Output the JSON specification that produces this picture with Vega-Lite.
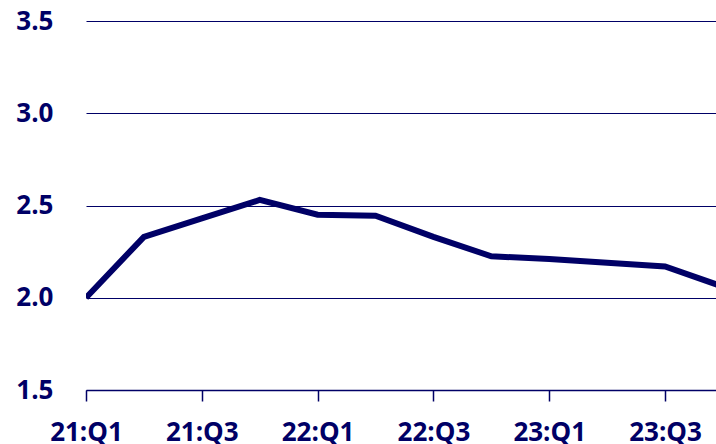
{
  "$schema": "https://vega.github.io/schema/vega-lite/v6.json",
  "autosize": "none",
  "width": 630,
  "height": 369,
  "padding": {"left": 86, "top": 21, "right": 0, "bottom": 54},
  "background": "white",
  "config": {"view": {"stroke": null}},
  "data": {"values": [
    {"quarter": "21:Q1", "idx": 0, "value": 2.00},
    {"quarter": "21:Q2", "idx": 1, "value": 2.33},
    {"quarter": "21:Q3", "idx": 2, "value": 2.43},
    {"quarter": "21:Q4", "idx": 3, "value": 2.53},
    {"quarter": "22:Q1", "idx": 4, "value": 2.45},
    {"quarter": "22:Q2", "idx": 5, "value": 2.445},
    {"quarter": "22:Q3", "idx": 6, "value": 2.33},
    {"quarter": "22:Q4", "idx": 7, "value": 2.225},
    {"quarter": "23:Q1", "idx": 8, "value": 2.21},
    {"quarter": "23:Q2", "idx": 9, "value": 2.19},
    {"quarter": "23:Q3", "idx": 10, "value": 2.17},
    {"quarter": "23:Q4", "idx": 11, "value": 2.06}
  ]},
  "mark": {"type": "line", "color": "#000066", "strokeWidth": 6, "clip": true, "strokeJoin": "miter"},
  "encoding": {
    "x": {
      "field": "idx", "type": "quantitative",
      "scale": {"domain": [0, 10.88], "nice": false, "zero": false},
      "axis": {
        "title": null, "grid": false,
        "values": [0, 2, 4, 6, 8, 10],
        "labelExpr": "['21:Q1','21:Q2','21:Q3','21:Q4','22:Q1','22:Q2','22:Q3','22:Q4','23:Q1','23:Q2','23:Q3','23:Q4'][datum.value]",
        "domainColor": "#000066", "domainWidth": 1.5,
        "tickColor": "#000066", "tickWidth": 1.5, "tickSize": 11,
        "labelFont": "Open Sans", "labelFontSize": 26, "labelFontWeight": "bold",
        "labelColor": "#000066", "labelPadding": 18, "labelFlush": false,
        "labelOverlap": false
      }
    },
    "y": {
      "field": "value", "type": "quantitative",
      "scale": {"domain": [1.5, 3.5], "nice": false, "zero": false},
      "axis": {
        "title": null, "values": [1.5, 2.0, 2.5, 3.0, 3.5],
        "format": ".1f",
        "domain": false, "ticks": false,
        "grid": true, "gridColor": "#000066", "gridWidth": 1.2, "gridOpacity": 1,
        "labelFont": "Open Sans", "labelFontSize": 26, "labelFontWeight": "bold",
        "labelColor": "#000066", "labelPadding": 33, "labelBaseline": "middle"
      }
    }
  }
}
